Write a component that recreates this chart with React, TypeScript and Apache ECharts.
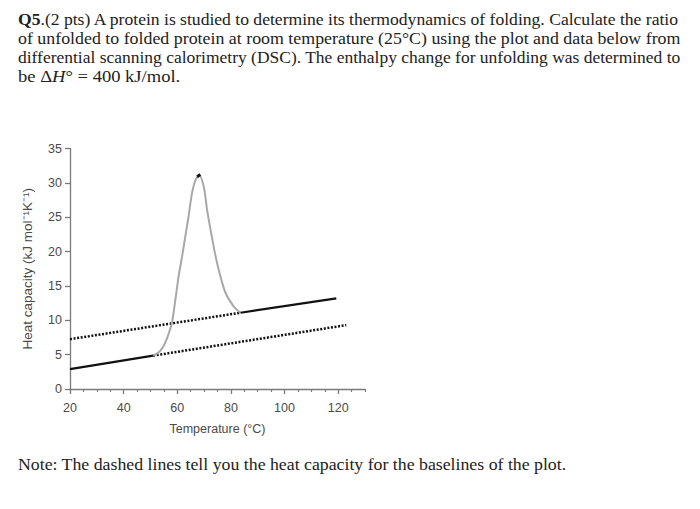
import React, { useEffect, useRef } from "react";
import * as echarts from "echarts";

// ---- data ----
const xMajorTicks = [20, 40, 60, 80, 100, 120];
const xMinorTicks = [25, 30, 35, 45, 50, 55, 65, 70, 75, 85, 90, 95, 105, 110, 115, 125, 130];
const foldedSolid = [[20, 2.9], [51, 4.85]];
const foldedDotted = [[51, 4.85], [123, 9.3]];
const unfoldedDotted = [[20, 7.25], [83.6, 11.1]];
const unfoldedSolid = [[83.6, 11.1], [119.3, 13.2]];
const dscTrace = [
  [51, 4.85], [53, 5.3], [54.5, 6.0], [56, 7.2], [57, 8.3], [58, 9.6], [59.3, 13.0],
  [60.5, 16.4], [61.8, 19.3], [63, 22.2], [64.2, 25.1], [65.5, 28.5], [66.8, 30.4],
  [68.2, 31.1], [69.9, 29.4], [71.1, 26.1], [72.4, 23.2], [74.3, 19.3], [76, 16.5],
  [77.5, 14.5], [78.6, 13.5], [80, 12.6], [81.5, 11.8], [83.6, 11.1],
];
const peakMark = [[67.4, 30.9], [68.6, 31.2]];

const questionLines = [
  "Q5.(2 pts) A protein is studied to determine its thermodynamics of folding. Calculate the ratio",
  "of unfolded to folded protein at room temperature (25°C) using the plot and data below from",
  "differential scanning calorimetry (DSC). The enthalpy change for unfolding was determined to",
];
const noteLine = "Note: The dashed lines tell you the heat capacity for the baselines of the plot.";

const SERIF = "'Liberation Serif', 'Times New Roman', serif";
const SANS = "'Liberation Sans', Arial, sans-serif";

function measure(text: string, font: string) {
  const c = document.createElement("canvas").getContext("2d")!;
  c.font = font;
  return c.measureText(text).width;
}

export default function App() {
  const ref = useRef<HTMLDivElement>(null);
  useEffect(() => {
    const chart = echarts.init(ref.current!, null, { renderer: "svg" });
    const fs = 16;
    const textLeft = 18;
    const textRight = 681;
    const lineYs = [20, 39, 58];
    const graphics: any[] = questionLines.map((t, i) => {
      let w: number;
      let text = t;
      let rich: any = undefined;
      if (i === 0) {
        const boldPart = "Q5";
        const rest = t.slice(2);
        w = measure(boldPart, `bold ${fs}px ${SERIF}`) + measure(rest, `${fs}px ${SERIF}`);
        text = `{b|${boldPart}}${rest}`;
        rich = { b: { fontWeight: "bold", fontFamily: SERIF, fontSize: fs, fill: "#222" } };
      } else {
        w = measure(t, `${fs}px ${SERIF}`);
      }
      const sx = (textRight - textLeft) / w;
      return {
        type: "text",
        x: textLeft,
        y: lineYs[i],
        scaleX: sx,
        style: {
          text,
          rich,
          fontFamily: SERIF,
          fontSize: fs,
          fill: "#222",
          align: "left",
          verticalAlign: "middle",
        },
      };
    });
    graphics.push({
      type: "text",
      x: textLeft,
      y: 77,
      scaleX: 1.16,
      style: {
        text: "be Δ{i|H}° = 400 kJ/mol.",
        rich: { i: { fontStyle: "italic", fontFamily: SERIF, fontSize: fs, fill: "#222" } },
        fontFamily: SERIF,
        fontSize: fs,
        fill: "#222",
        align: "left",
        verticalAlign: "middle",
      },
    });
    const noteW = measure(noteLine, `${fs}px ${SERIF}`);
    graphics.push({
      type: "text",
      x: textLeft,
      y: 465,
      scaleX: (567 - textLeft) / noteW,
      style: {
        text: noteLine,
        fontFamily: SERIF,
        fontSize: fs,
        fill: "#222",
        align: "left",
        verticalAlign: "middle",
      },
    });

    const axisColor = "#7a7a7a";
    const dotted = { color: "#111", width: 2.5, type: [2, 1.6] as any };

    chart.setOption({
      animation: false,
      backgroundColor: "#fff",
      grid: { left: 70, right: 335, top: 148.5, bottom: 120, containLabel: false },
      xAxis: [
        {
          type: "value",
          min: 20,
          max: 130,
          position: "bottom",
          axisLine: { onZero: false, lineStyle: { color: axisColor, width: 1.3 } },
          axisTick: { customValues: xMajorTicks, length: 5, lineStyle: { color: axisColor, width: 1.3 } },
          axisLabel: { customValues: xMajorTicks, color: "#4a4a4a", fontSize: 12.5, fontFamily: SANS, margin: 12 },
          splitLine: { show: false },
          name: "Temperature (°C)",
          nameLocation: "middle",
          nameGap: 33,
          nameTextStyle: { color: "#4a4a4a", fontSize: 12.5, fontFamily: SANS },
        },
        {
          type: "value",
          min: 20,
          max: 130,
          position: "bottom",
          axisLine: { show: false, onZero: false },
          axisTick: { customValues: xMinorTicks, length: 3, lineStyle: { color: axisColor, width: 1.2 } },
          axisLabel: { show: false },
          splitLine: { show: false },
        },
      ],
      yAxis: {
        type: "value",
        min: 0,
        max: 35,
        interval: 5,
        axisLine: { show: true, onZero: false, lineStyle: { color: axisColor, width: 1.3 } },
        axisTick: { show: true, length: 5, lineStyle: { color: axisColor, width: 1.3 } },
        axisLabel: { color: "#4a4a4a", fontSize: 12.5, fontFamily: SANS, margin: 8 },
        splitLine: { show: false },
        name: "Heat capacity (kJ mol⁻¹K⁻¹)",
        nameLocation: "middle",
        nameGap: 36,
        nameTextStyle: { color: "#4a4a4a", fontSize: 13.5, fontFamily: SANS },
      },
      series: [
        { type: "line", data: foldedDotted, showSymbol: false, lineStyle: dotted, z: 2 },
        { type: "line", data: unfoldedDotted, showSymbol: false, lineStyle: dotted, z: 2 },
        { type: "line", data: dscTrace, showSymbol: false, smooth: 0.3, lineStyle: { color: "#a8a8a8", width: 2 }, z: 3 },
        { type: "line", data: foldedSolid, showSymbol: false, lineStyle: { color: "#111", width: 2.2 }, z: 4 },
        { type: "line", data: unfoldedSolid, showSymbol: false, lineStyle: { color: "#111", width: 2.2 }, z: 4 },
        { type: "line", data: peakMark, showSymbol: false, lineStyle: { color: "#111", width: 3 }, z: 5 },
      ],
      graphic: graphics,
    });
    return () => chart.dispose();
  }, []);
  return (
    <div
      ref={ref}
      style={{ position: "absolute", left: 0, top: 0, width: 700, height: 509 }}
    />
  );
}
